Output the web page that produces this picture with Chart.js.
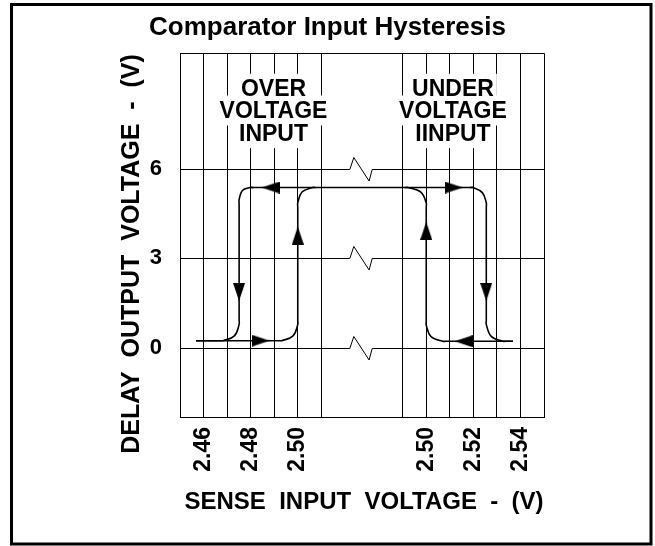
<!DOCTYPE html>
<html>
<head>
<meta charset="utf-8">
<script src="https://cdn.jsdelivr.net/npm/chart.js@4/dist/chart.umd.min.js"></script>
<style>
html,body{margin:0;padding:0;background:#fff;}
canvas{display:block;}
</style>
</head>
<body>
<canvas id="c" width="655" height="546"></canvas>
<script>
// ================= DATA =================
const chartTitle = 'Comparator Input Hysteresis';
const xAxisTitle = 'SENSE  INPUT  VOLTAGE  -  (V)';
const yAxisTitle = 'DELAY  OUTPUT  VOLTAGE  -  (V)';

// broken x axis : two panels of sense input voltage (V)
const leftPanelGrid    = [2.45, 2.46, 2.47, 2.48, 2.49, 2.50, 2.51];
const leftPanelLabels  = ['', '2.46', '', '2.48', '', '2.50', ''];
const rightPanelGrid   = [2.49, 2.50, 2.51, 2.52, 2.53, 2.54, 2.55];
const rightPanelLabels = ['', '2.50', '', '2.52', '', '2.54', ''];

// y axis : delay output voltage (V)
const yTickValues = [0, 3, 6];
const yTickLabels = ['0', '3', '6'];

// Over-voltage loop (left panel) : [sense V, output V]
const overRising  = [[2.4568,0.24],[2.4920,0.24],[2.4932,0.24],[2.4980,0.40],[2.5000,0.78],[2.5000,0.92],
                     [2.5000,4.72],[2.5000,4.86],[2.5018,5.22],[2.5063,5.37],[2.5075,5.37]];
const overFalling = [[2.4812,5.37],[2.4799,5.37],[2.4765,5.27],[2.4751,4.96],[2.4751,4.82],
                     [2.4751,0.92],[2.4751,0.78],[2.4731,0.40],[2.4683,0.24],[2.4671,0.24],[2.4568,0.24]];
// Under-voltage loop (right panel)
const underRising  = [[2.5368,0.22],[2.5082,0.22],[2.5070,0.22],[2.5020,0.38],[2.5000,0.76],[2.5000,0.90],
                      [2.5000,4.72],[2.5000,4.86],[2.4977,5.22],[2.4921,5.37],[2.4909,5.37]];
const underFalling = [[2.5186,5.37],[2.5198,5.37],[2.5238,5.20],[2.5255,4.86],[2.5255,4.72],
                      [2.5255,0.92],[2.5255,0.78],[2.5276,0.385],[2.5326,0.22],[2.5338,0.22],[2.5368,0.22]];
// high output level joining both loops (left-panel end, right-panel end)
const highLevelLeftEnd  = [2.4799, 5.37];
const highLevelRightEnd = [2.5198, 5.37];

// direction arrows
const overArrows     = [[2.4885,5.37],[2.5000,3.76],[2.4751,1.87],[2.4842,0.24]];
const overArrowDirs  = ['left','up','down','right'];
const underArrows    = [[2.5117,5.37],[2.5000,3.92],[2.5255,1.87],[2.5159,0.22]];
const underArrowDirs = ['right','up','down','left'];

// in-plot notes
const overNote  = ['OVER', 'VOLTAGE', 'INPUT'];
const underNote = ['UNDER', 'VOLTAGE', 'IINPUT'];

// ================= SCALE MAPPING (broken axis) =================
const PANEL = { leftStart: 2.45, rightStart: 2.49, rightOffset: 9.455, perVolt: 100 };
const toAxisL = v => (v - PANEL.leftStart) * PANEL.perVolt;
const toAxisR = v => PANEL.rightOffset + (v - PANEL.rightStart) * PANEL.perVolt;
const X_MAX = toAxisR(rightPanelGrid[rightPanelGrid.length - 1]);

const gridTicks = [...leftPanelGrid.map(toAxisL), ...rightPanelGrid.map(toAxisR)];
const gridLabels = [...leftPanelLabels, ...rightPanelLabels];

// ================= STYLE =================
const FONT = '"Liberation Sans", Arial, Helvetica, sans-serif';
Chart.defaults.font.family = FONT;
Chart.defaults.color = '#000';

const STYLE = {
  breakMark: { start: 7.21, peak: 7.38, valley: 8.03, end: 8.16, up: -12, down: 11.5 },
  noteFont: 'bold 23px ' + FONT,
  noteYs: [8.68, 7.95, 7.19],
  noteLeftX: 3.97,
  noteRightX: 11.59,
  axisTitleFont: 'bold 24px ' + FONT,
  yTitleFont: 'bold 25px ' + FONT,
  xTitlePos: [364, 502],
  yTitlePos: [132, 254]
};

const mk = (pts, f) => pts.map(([v, y]) => ({ x: f(v), y }));
const lineDs = data => ({
  type: 'line', data, borderColor: '#000', borderWidth: 1.6, tension: 0.4,
  pointRadius: 0, fill: false
});

// arrow head image (points up; rotated per point)
const arrowImg = document.createElement('canvas');
arrowImg.width = 12; arrowImg.height = 18;
(() => {
  const a = arrowImg.getContext('2d');
  a.fillStyle = '#000';
  a.beginPath(); a.moveTo(6, 0); a.lineTo(12, 18); a.lineTo(0, 18); a.closePath(); a.fill();
})();
const ROT = { up: 0, right: 90, down: 180, left: 270 };

const decoPlugin = {
  id: 'deco',
  beforeDraw(chart) {
    const c = chart.ctx;
    c.save(); c.fillStyle = '#fff'; c.fillRect(0, 0, chart.width, chart.height); c.restore();
  },
  beforeDatasetsDraw(chart) {
    const { ctx, chartArea: a, scales } = chart;
    const xs = scales.x, ys = scales.y;
    const B = STYLE.breakMark;
    ctx.save();
    ctx.strokeStyle = '#000';
    ctx.lineWidth = 1;
    // horizontal grid lines with the axis-break zigzag
    yTickValues.forEach(v => {
      const py = Math.round(ys.getPixelForValue(v)) + 0.5;
      ctx.beginPath();
      ctx.moveTo(a.left, py);
      ctx.lineTo(xs.getPixelForValue(B.start), py);
      ctx.lineTo(xs.getPixelForValue(B.peak), py + B.up);
      ctx.lineTo(xs.getPixelForValue(B.valley), py + B.down);
      ctx.lineTo(xs.getPixelForValue(B.end), py);
      ctx.lineTo(a.right, py);
      ctx.stroke();
    });
    // plot frame
    ctx.beginPath();
    const t = Math.round(a.top) + 0.5, b = Math.round(a.bottom) - 0.5;
    ctx.moveTo(a.left, t); ctx.lineTo(a.right, t);
    ctx.moveTo(a.left, b); ctx.lineTo(a.right, b);
    ctx.stroke();

    // notes with white background
    ctx.font = STYLE.noteFont;
    ctx.textAlign = 'center';
    ctx.textBaseline = 'middle';
    const blocks = [[overNote, STYLE.noteLeftX], [underNote, STYLE.noteRightX]];
    ctx.fillStyle = '#fff';
    blocks.forEach(([lines, xv]) => lines.forEach((s, i) => {
      const cx = xs.getPixelForValue(xv), cy = ys.getPixelForValue(STYLE.noteYs[i]);
      const w = ctx.measureText(s).width + 6;
      ctx.fillRect(cx - w / 2, cy - 15, w, 30);
    }));
    ctx.fillStyle = '#000';
    blocks.forEach(([lines, xv]) => lines.forEach((s, i) => {
      ctx.fillText(s, xs.getPixelForValue(xv), ys.getPixelForValue(STYLE.noteYs[i]) + 1);
    }));

    // axis titles
    ctx.font = STYLE.axisTitleFont;
    ctx.fillText(xAxisTitle, STYLE.xTitlePos[0], STYLE.xTitlePos[1]);
    ctx.save();
    ctx.font = STYLE.yTitleFont;
    ctx.translate(STYLE.yTitlePos[0], STYLE.yTitlePos[1]);
    ctx.rotate(-Math.PI / 2);
    ctx.fillText(yAxisTitle, 0, 0);
    ctx.restore();
    ctx.restore();
  },
  afterDraw(chart) {
    const c = chart.ctx;
    c.save();
    c.strokeStyle = '#000';
    c.lineWidth = 3;
    c.strokeRect(11.5, 4.5, 639.5, 539.5);
    c.restore();
  }
};

new Chart(document.getElementById('c'), {
  type: 'line',
  data: {
    datasets: [
      lineDs(mk(overRising, toAxisL)),
      lineDs(mk(overFalling, toAxisL)),
      lineDs([{ x: toAxisL(highLevelLeftEnd[0]), y: highLevelLeftEnd[1] },
              { x: toAxisR(highLevelRightEnd[0]), y: highLevelRightEnd[1] }]),
      lineDs(mk(underRising, toAxisR)),
      lineDs(mk(underFalling, toAxisR)),
      {
        type: 'scatter',
        data: [...mk(overArrows, toAxisL), ...mk(underArrows, toAxisR)],
        pointStyle: arrowImg,
        pointRotation: [...overArrowDirs, ...underArrowDirs].map(d => ROT[d]),
        showLine: false
      }
    ]
  },
  options: {
    responsive: false,
    animation: false,
    events: [],
    layout: { padding: 0 },
    plugins: {
      legend: { display: false },
      tooltip: { enabled: false },
      title: {
        display: true,
        text: chartTitle,
        color: '#000',
        font: { size: 26, weight: 'bold', family: FONT, lineHeight: 1.2 },
        padding: { top: 12, bottom: 10 }
      }
    },
    scales: {
      x: {
        type: 'linear',
        min: 0,
        max: X_MAX,
        afterBuildTicks: s => { s.ticks = gridTicks.map(v => ({ value: v })); },
        afterFit: s => { s.height = 128; },
        grid: { color: '#000', lineWidth: 1, drawTicks: false },
        border: { display: false },
        ticks: {
          autoSkip: false,
          minRotation: 90,
          maxRotation: 90,
          padding: 9,
          font: { size: 23, weight: 'bold' },
          callback: (v, i) => gridLabels[i]
        }
      },
      y: {
        type: 'linear',
        min: -2.35,
        max: 9.87,
        afterBuildTicks: s => { s.ticks = yTickValues.map(v => ({ value: v })); },
        afterFit: s => { s.width = 180; },
        grid: { display: false, drawTicks: false },
        border: { display: false },
        ticks: {
          padding: 18,
          font: { size: 22, weight: 'bold' },
          callback: (v, i) => yTickLabels[i]
        }
      },
      yRightSpace: {
        type: 'linear',
        position: 'right',
        display: true,
        afterFit: s => { s.width = 111; },
        grid: { display: false },
        border: { display: false },
        ticks: { display: false }
      }
    }
  },
  plugins: [decoPlugin]
});
</script>
</body>
</html>
